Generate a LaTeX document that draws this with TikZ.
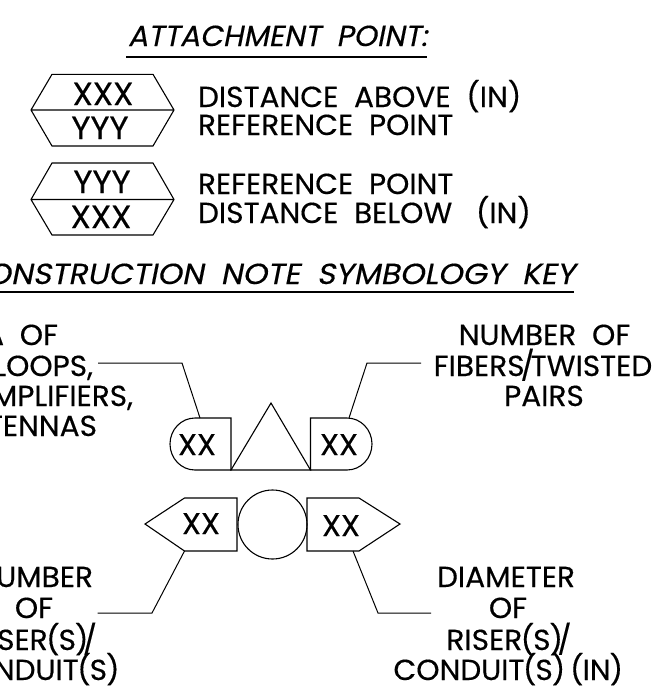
\documentclass[tikz,border=0pt]{standalone}
\usepackage{fontspec}
\setmainfont[FakeStretch=1.02,FakeBold=0.35]{Poppins}
\newfontfamily\slfont[FakeStretch=1.02,FakeSlant=0.2,FakeBold=0.35]{Poppins}
\newfontfamily\slwfont[FakeStretch=1.08,FakeSlant=0.2,FakeBold=0.35]{Poppins}
\newcommand{\lpar}{\kern-1.5pt(\kern-1pt}
\newcommand{\rpar}{\kern-1pt)\kern-1.5pt}
\newcommand{\tslash}{\kern-4pt/\kern-4pt}
\tikzset{
  lab/.style={inner sep=0pt,outer sep=0pt,font=\fontsize{29}{29}\selectfont},
  big/.style={inner sep=0pt,outer sep=0pt,font=\fontsize{32}{32}\selectfont},
  mid/.style={inner sep=0pt,outer sep=0pt,font=\fontsize{30}{30}\selectfont},
  ttl/.style={inner sep=0pt,outer sep=0pt,font=\slfont\fontsize{29}{29}\selectfont},
  ttlw/.style={inner sep=0pt,outer sep=0pt,font=\slwfont\fontsize{29}{29}\selectfont},
  sym/.style={draw=black,line width=1.1pt,line join=miter},
  lead/.style={draw=black,line width=1pt},
  rulel/.style={draw=black,line width=1.2pt}
}
\begin{document}
\begin{tikzpicture}[x=1pt,y=-1pt]
\useasboundingbox (0,0) rectangle (653,699);
\clip (0,0) rectangle (653,699);
% titles
\node[ttl,anchor=base west] (t1) at (128,46) {ATTACHMENT\ \ POINT:};
\coordinate (u1a) at (126,57); \coordinate (u1b) at (427,57);
\draw[rulel] (u1a) -- (u1b);
\node[ttlw,anchor=base east] (t2) at (575,284) {CONSTRUCTION\ \ NOTE\ \ SYMBOLOGY\ \ KEY};
\coordinate (u2a) at (0,292); \coordinate (u2b) at (574,292);
\draw[rulel] (u2a) -- (u2b);
% hexagons
\draw[sym] (31,110) -- (52,74.3) -- (153,74.3) -- (174,110) -- (153,146) -- (52,146) -- cycle (31,110) -- (174,110);
\draw[sym] (31,199.5) -- (52,163) -- (153,163) -- (174,199.5) -- (153,235) -- (52,235) -- cycle (31,199.5) -- (174,199.5);
\node[big,anchor=base] (h1a) at (103,105) {XXX};
\node[big,anchor=base] (h1b) at (100,139) {YYY};
\node[big,anchor=base] (h2a) at (102,193) {YYY};
\node[big,anchor=base] (h2b) at (101,228) {XXX};
\node[lab,anchor=base west] (d1) at (198,107) {DISTANCE\ \ ABOVE\ \ (IN)};
\node[lab,anchor=base west] (d2) at (198,135) {REFERENCE\ \ POINT};
\node[lab,anchor=base west] (d3) at (198,194) {REFERENCE\ \ POINT};
\node[lab,anchor=base west] (d4) at (198,223) {DISTANCE\ \ BELOW\ \ \ (IN)};
% upper symbol
\draw[sym] (231,418) -- (195,418) .. controls (181.2,418) and (170,429.6) .. (170,444) .. controls (170,458.4) and (181.2,470) .. (195,470) -- (231,470) -- cycle;
\draw[sym] (231,470) -- (271,403) -- (310.5,470) -- cycle;
\draw[sym] (310.5,418) -- (347,418) .. controls (360.8,418) and (372,429.6) .. (372,444) .. controls (372,458.4) and (360.8,470) .. (347,470) -- (310.5,470) -- cycle;
\node[mid,anchor=base] (x1) at (197,455) {XX};
\node[mid,anchor=base] (x2) at (339,455) {XX};
% lower symbol
\draw[sym] (145,524) -- (184.5,498) -- (237,498) -- (237,551) -- (184.5,551) -- cycle;
\draw[sym] (272.5,524.5) circle[radius=34.5];
\draw[sym] (307,498) -- (359,498) -- (400,524) -- (359,551) -- (307,551) -- cycle;
\node[mid,anchor=base] (x3) at (201,534) {XX};
\node[mid,anchor=base] (x4) at (341,536) {XX};
% leaders
\draw[lead] (98,363) -- (182,363) -- (200,418);
\draw[lead] (421,363) -- (367,363) -- (349,418);
\draw[lead] (97.5,613) -- (152,613) -- (184.5,551);
\draw[lead] (431,613) -- (378,613) -- (353,551);
% left labels (cut off by the picture edge)
\node[lab,anchor=base east] (l1) at (58,345) {A\ \ OF};
\node[lab,anchor=base east] (l2) at (93,376) {LOOPS,};
\node[lab,anchor=base east] (l3) at (133,406) {AMPLIFIERS,};
\node[lab,anchor=base east] (l4) at (97,436) {ANTENNAS};
\node[lab,anchor=base east] (b1) at (93,587) {NUMBER};
\node[lab,anchor=base] (b2) at (34,618) {OF};
\node[lab,anchor=base east] (b3) at (93,650) {RISER\lpar S\rpar\tslash};
\node[lab,anchor=base east] (b4) at (118,680) {CONDUIT\lpar S\rpar};
% right labels
\node[lab,anchor=base] (r1) at (544.5,345) {NUMBER\ \ OF};
\node[lab,anchor=base] (r2) at (543,376) {FIBERS\tslash TWISTED};
\node[lab,anchor=base] (r3) at (544,406) {PAIRS};
\node[lab,anchor=base] (e1) at (506,587) {DIAMETER};
\node[lab,anchor=base] (e2) at (508,618) {OF};
\node[lab,anchor=base] (e3) at (507,650) {RISER\lpar S\rpar\tslash};
\node[lab,anchor=base] (e4) at (507.5,680) {CONDUIT\lpar S\rpar\ \lpar IN\rpar};
\end{tikzpicture}
\end{document}
